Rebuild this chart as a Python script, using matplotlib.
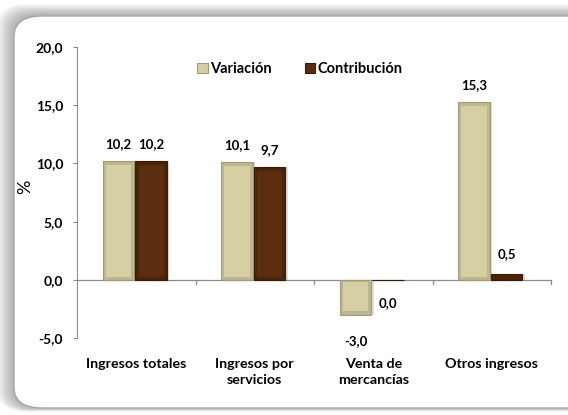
import matplotlib
matplotlib.use("Agg")
import matplotlib.pyplot as plt
from matplotlib.patches import FancyBboxPatch
import numpy as np

categories = ["Ingresos totales", "Ingresos por\nservicios", "Venta de\nmercancías", "Otros ingresos"]
variacion = [10.2, 10.1, -3.0, 15.3]
contribucion = [10.2, 9.7, 0.0, 0.5]
var_labels = ["10,2", "10,1", "-3,0", "15,3"]
con_labels = ["10,2", "9,7", "0,0", "0,5"]
yticks = [-5, 0, 5, 10, 15, 20]
ytick_labels = ["-5,0", "0,0", "5,0", "10,0", "15,0", "20,0"]

plt.rcParams['font.family'] = ['Lato', 'DejaVu Sans']

fig = plt.figure(figsize=(5.68, 4.15), dpi=100)
fig.patch.set_facecolor("white")

# frame with soft shadow (frame extends past right edge)
fx0, fw = 14 / 568, 1.1
fy0 = 1 - 408 / 415
fh = (408 - 16) / 415
for i in range(8):
    d = 0.0035 * (8 - i)
    sh = FancyBboxPatch((fx0 - d, fy0 - d * 0.3), fw + 2 * d, fh + d * 1.3,
                        boxstyle="round,pad=0,rounding_size=0.05", transform=fig.transFigure,
                        facecolor="#606060", edgecolor="none", alpha=0.07, zorder=0)
    fig.add_artist(sh)
frame = FancyBboxPatch((fx0, fy0), fw, fh,
                       boxstyle="round,pad=0,rounding_size=0.05", transform=fig.transFigure,
                       facecolor="white", edgecolor="#a8a8a8", linewidth=1.0, zorder=1)
fig.add_artist(frame)

ax = fig.add_axes([77 / 568, 1 - 338 / 415, 474 / 568, 291 / 415])
ax.set_facecolor("none")
ax.set_zorder(2)

x = np.arange(len(categories))
w = 0.265
ov = -0.15
oc = 0.125
c_var = "#d5cfa3"
c_con = "#5a2d10"

# drop shadows
ax.bar(x + ov + 0.02, variacion, w, color="#808080", alpha=0.25, edgecolor="none", zorder=2.5)
ax.bar(x + oc + 0.02, contribucion, w, color="#808080", alpha=0.25, edgecolor="none", zorder=2.5)

b1 = ax.bar(x + ov, variacion, w, color="#bdb68e", edgecolor="#a29b78", linewidth=0.8,
            label="Variación", zorder=3)
b2 = ax.bar(x + oc, contribucion, w, color="#4a2309", edgecolor="#3a1a06", linewidth=0.8,
            label="Contribución", zorder=3)
# bevel face
for xi, v in zip(x, variacion):
    ax.bar(xi + ov, v - np.sign(v) * 0.55, w * 0.8, bottom=np.sign(v) * 0.2,
           color=c_var, edgecolor="none", zorder=3.5)
for xi, v in zip(x, contribucion):
    if abs(v) > 1.5:
        ax.bar(xi + oc, v - 0.55, w * 0.8, bottom=0.2,
               color=c_con, edgecolor="none", zorder=3.5)

fs = 9.5
for xi, v, lab in zip(x, variacion, var_labels):
    if v >= 0:
        ax.annotate(lab, (xi + ov, v), xytext=(0, 12), textcoords="offset points",
                    ha="center", va="center", fontsize=fs, fontweight="bold")
    else:
        ax.annotate(lab, (xi + ov, v), xytext=(0, -19), textcoords="offset points",
                    ha="center", va="center", fontsize=fs, fontweight="bold")
for xi, v, lab in zip(x, contribucion, con_labels):
    if v >= 5:
        ax.annotate(lab, (xi + oc, v), xytext=(0, 12), textcoords="offset points",
                    ha="center", va="center", fontsize=fs, fontweight="bold")
    elif v > 0:
        ax.annotate(lab, (xi + oc, v), xytext=(0, 14), textcoords="offset points",
                    ha="center", va="center", fontsize=fs, fontweight="bold")
    else:
        ax.annotate(lab, (xi + oc, v), xytext=(0, -17), textcoords="offset points",
                    ha="center", va="center", fontsize=fs, fontweight="bold")

ax.set_xlim(-0.5, len(categories) - 0.5)
ax.set_ylim(-5, 20)
ax.set_yticks(yticks)
ax.set_yticklabels(ytick_labels, fontsize=10, fontweight="bold")
ax.set_ylabel("%", fontsize=13)
ax.yaxis.set_label_coords(-0.093, 0.52)

ax.spines["top"].set_visible(False)
ax.spines["right"].set_visible(False)
ax.spines["bottom"].set_visible(False)
ax.spines["left"].set_color("#8c8c8c")
ax.tick_params(axis="y", length=3, color="#8c8c8c", pad=7)
ax.axhline(0, color="#8c8c8c", linewidth=0.9, zorder=2)
ax.set_xticks([])
for b in np.arange(0.5, len(categories), 1.0):
    ax.plot([b, b], [0, -0.35], color="#8c8c8c", linewidth=0.9, clip_on=False, zorder=2)
for xi, cat in zip(x, categories):
    ax.text(xi, -6.75, cat, ha="center", va="top", fontsize=10.3, fontweight="bold",
            linespacing=1.4)

leg = ax.legend(handles=[b1, b2], loc="center", bbox_to_anchor=(0.47, 0.924), ncol=2, frameon=False,
                prop={"size": 10.5, "weight": "bold"}, handlelength=0.7, handleheight=0.7,
                handletextpad=0.15, columnspacing=2.3)
for h, c in zip(leg.legend_handles, [c_var, c_con]):
    h.set_facecolor(c)

fig.savefig("out.png", dpi=100)
